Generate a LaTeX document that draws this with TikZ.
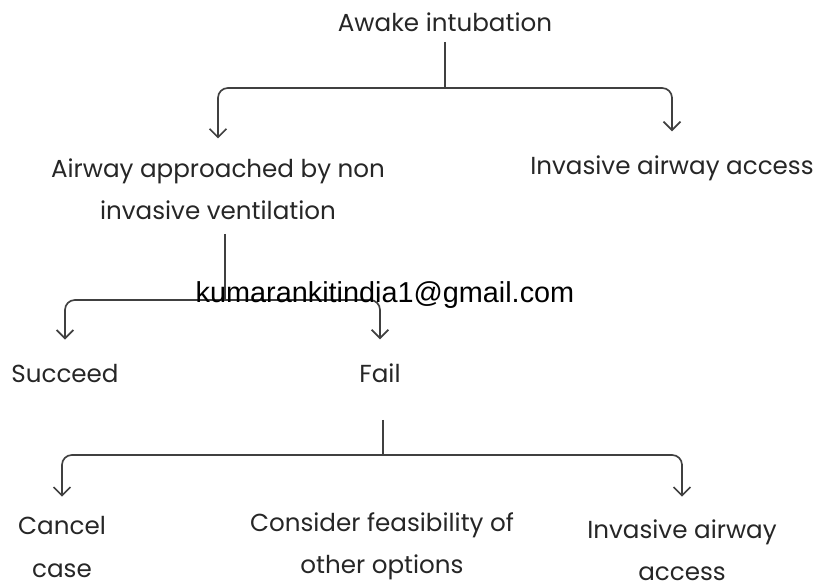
\documentclass[tikz,border=0pt]{standalone}
\usepackage{fontspec}
\setmainfont{Poppins}
\newfontfamily\mailfont{Liberation Sans}
\usetikzlibrary{arrows.meta,positioning,calc}

\begin{document}
\begin{tikzpicture}[
    x=0.025cm, y=-0.025cm,
    lbl/.style={font=\fontsize{17.5}{30}\selectfont, inner sep=0pt, align=center, text=black!85},
    arrow/.style={-{Straight Barb[length=6pt,width=12pt]}, line width=1.2pt, draw=black!75, rounded corners=7pt},
    trunk/.style={line width=1.2pt, draw=black!75}
]
\useasboundingbox (0,0) rectangle (819,587);

% top split
\node[lbl] (awake) at (445,22) {Awake intubation};
\node[lbl] (noninv) at (218,189) {Airway approached by non\\invasive ventilation};
\node[lbl] (invtop) at (672,168) {Invasive airway access};
\coordinate (splitA) at (445,88);
\draw[trunk] (awake.south) ++(0,10) -- (splitA);
\draw[arrow, shorten >=14pt] (splitA) -| (noninv.north);
\draw[arrow, shorten >=17pt] (splitA) -| (invtop.north);

% second split
\node[lbl] (succeed) at (65,373) {Succeed};
\node[lbl] (fail) at (380,373) {Fail};
\coordinate (splitB) at (225,300);
\draw[trunk] (splitB |- noninv.south) ++(0,14) -- (splitB);
\draw[arrow, shorten >=17pt] (splitB) -| (succeed.north);
\draw[arrow, shorten >=17pt] (splitB) -| (fail.north);
\node[font=\mailfont\fontsize{20.5}{24}\selectfont, inner sep=0pt] (mail) at (385,295) {kumarankitindia1@gmail.com};

% third split
\node[lbl] (cancel) at (62,547) {Cancel\\case};
\node[lbl] (consider) at (382,546) {Consider feasibility of\\other options};
\node[lbl] (invlow) at (682,550) {Invasive airway\\access};
\coordinate (splitC) at (383,455);
\draw[trunk] (splitC |- fail.south) ++(0,37) -- (splitC);
\draw[arrow, shorten >=14pt] (splitC) -| (cancel.north);
\draw[arrow, shorten >=16pt] (splitC) -| (invlow.north);
\end{tikzpicture}
\end{document}
